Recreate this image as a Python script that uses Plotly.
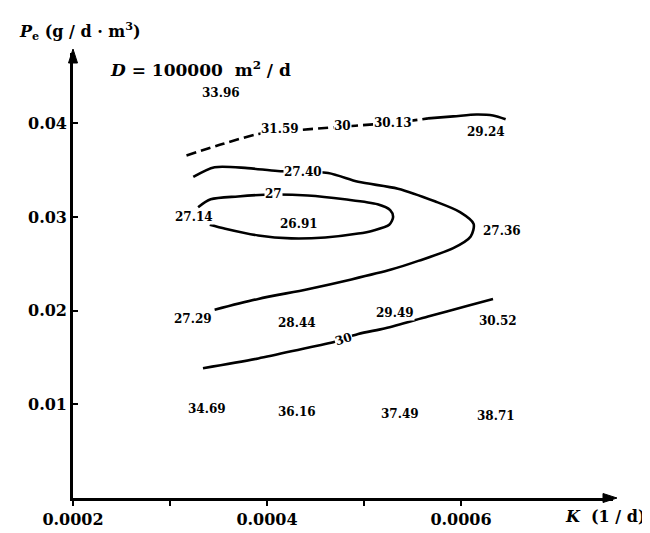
import plotly.graph_objects as go

# ---- grid values written on the chart (K, P where each value sits) ----
val_K = [0.000353, 0.000413, 0.000530, 0.000626,
         0.000325, 0.000433, 0.000642,
         0.000324, 0.000431, 0.000532, 0.000638,
         0.000338, 0.000431, 0.000537, 0.000636]
val_P = [0.0432, 0.0394, 0.0400, 0.0391,
         0.0300, 0.0293, 0.0285,
         0.0191, 0.0187, 0.0197, 0.0189,
         0.0095, 0.0092, 0.0090, 0.0087]
val_text = ["33.96", "31.59", "30.13", "29.24",
            "27.14", "26.91", "27.36",
            "27.29", "28.44", "29.49", "30.52",
            "34.69", "36.16", "37.49", "38.71"]

# ---- contour lines ----
top_dash_K = [0.000317, 0.000355, 0.000391, 0.000432, 0.000471, 0.000511, 0.000551, 0.000566]
top_dash_P = [0.03656, 0.03781, 0.03885, 0.03927, 0.03958, 0.03990, 0.04031, 0.04052]
top_solid_K = [0.000566, 0.000592, 0.000616, 0.000633, 0.000646]
top_solid_P = [0.04052, 0.04073, 0.04094, 0.04083, 0.04042]

c274_K = [0.000324, 0.000346, 0.000380, 0.000411, 0.000463, 0.000494, 0.000535,
          0.000573, 0.000599, 0.000613, 0.000610, 0.000592, 0.000556, 0.000528,
          0.000487, 0.000442, 0.000391, 0.000346]
c274_P = [0.03427, 0.03531, 0.03521, 0.03490, 0.03469, 0.03375, 0.03302,
          0.03167, 0.03052, 0.02927, 0.02792, 0.02667, 0.02531, 0.02438,
          0.02333, 0.02229, 0.02125, 0.02010]

c27_K = [0.000329, 0.000342, 0.000370, 0.000406, 0.000442, 0.000480, 0.000514,
         0.000527, 0.000530, 0.000526, 0.000509, 0.000494, 0.000460, 0.000425,
         0.000391, 0.000357, 0.000341]
c27_P = [0.03104, 0.03188, 0.03219, 0.03240, 0.03229, 0.03188, 0.03135,
         0.03073, 0.03000, 0.02917, 0.02854, 0.02823, 0.02781, 0.02771,
         0.02802, 0.02875, 0.02917]

c30_K = [0.000334, 0.000391, 0.000442, 0.000466, 0.000494, 0.000522, 0.000566, 0.000607, 0.000633]
c30_P = [0.01385, 0.01490, 0.01604, 0.01656, 0.01750, 0.01813, 0.01938, 0.02052, 0.02125]

# ---- contour level labels ----
lvl_K = [0.000437, 0.000407, 0.000478, 0.000479]
lvl_P = [0.0348, 0.0325, 0.0397, 0.0170]
lvl_text = ["27.40", "27", "30", "30"]
lvl_angle = [0, 0, 0, -18]

# ---- axes ----
x_tickvals = [0.0002, 0.0004, 0.0006]
x_ticktext = ["0.0002", "0.0004", "0.0006"]
x_minor_vals = [0.0003, 0.0005]
y_tickvals = [0.01, 0.02, 0.03, 0.04]
y_ticktext = ["0.01", "0.02", "0.03", "0.04"]

FONT = "DejaVu Serif"
LINE = dict(color="black", width=2.6, shape="spline", smoothing=0.8)

fig = go.Figure()
fig.add_trace(go.Scatter(x=top_dash_K, y=top_dash_P, mode="lines",
                         line=dict(LINE, dash="10px,5px"), hoverinfo="skip"))
for xs, ys in [(top_solid_K, top_solid_P), (c274_K, c274_P), (c27_K, c27_P), (c30_K, c30_P)]:
    fig.add_trace(go.Scatter(x=xs, y=ys, mode="lines", line=LINE, hoverinfo="skip"))

annotations = []
for k, p, t in zip(val_K, val_P, val_text):
    annotations.append(dict(x=k, y=p, xref="x", yref="y", text=t, showarrow=False,
                            bgcolor="white", borderpad=0,
                            font=dict(family=FONT, size=12, color="black", weight="bold")))
for k, p, t, a in zip(lvl_K, lvl_P, lvl_text, lvl_angle):
    annotations.append(dict(x=k, y=p, xref="x", yref="y", text=t, showarrow=False,
                            bgcolor="white", borderpad=0, textangle=a,
                            font=dict(family=FONT, size=12, color="black", weight="bold")))

annotations += [
    dict(x=0.065, y=0.963, xref="paper", yref="paper", xanchor="left", yanchor="middle",
         text="<i>D</i> = 100000  m<sup>2</sup> / d", showarrow=False,
         font=dict(family=FONT, size=17, color="black", weight="bold")),
    dict(x=1.065, y=-0.042, xref="paper", yref="paper", xanchor="right", yanchor="middle",
         text="<i>K</i>  (1 / d)", showarrow=False,
         font=dict(family=FONT, size=16, color="black", weight="bold")),
]

shapes = [
    dict(type="path", xref="paper", yref="paper", xsizemode="pixel", ysizemode="pixel",
         xanchor=1.0, yanchor=0.0, path="M 4,0 L -10,4.5 L -10,-4.5 Z",
         fillcolor="black", line=dict(color="black", width=1)),
    dict(type="path", xref="paper", yref="paper", xsizemode="pixel", ysizemode="pixel",
         xanchor=0.0, yanchor=1.0, path="M 0,4 L -4.5,-10 L 4.5,-10 Z",
         fillcolor="black", line=dict(color="black", width=1)),
]

fig.update_layout(
    width=650, height=533,
    margin=dict(l=65, r=45, t=45, b=32),
    paper_bgcolor="white", plot_bgcolor="white",
    showlegend=False,
    title=dict(text="<i>P</i><sub>e</sub> (g / d · m<sup>3</sup>)",
               x=12 / 650, xanchor="left", xref="container",
               y=1 - 23 / 533, yanchor="middle", yref="container",
               font=dict(family=FONT, size=16, color="black", weight="bold")),
    annotations=annotations,
    shapes=shapes,
    xaxis=dict(range=[0.0002, 0.0007567], showgrid=False, zeroline=False,
               showline=True, linecolor="black", linewidth=2.6,
               tickmode="array", tickvals=x_tickvals, ticktext=x_ticktext,
               ticks="outside", ticklen=5, tickwidth=2, tickcolor="black",
               minor=dict(tickmode="array", tickvals=x_minor_vals, ticks="outside",
                          ticklen=5, tickwidth=2, tickcolor="black", showgrid=False),
               tickfont=dict(family=FONT, size=16, color="black", weight="bold")),
    yaxis=dict(range=[0, 0.0475], showgrid=False, zeroline=False,
               showline=True, linecolor="black", linewidth=2.6,
               tickmode="array", tickvals=y_tickvals, ticktext=y_ticktext,
               ticks="inside", ticklen=5, tickwidth=2, tickcolor="black",
               tickfont=dict(family=FONT, size=16, color="black", weight="bold")),
)

fig.write_html("out.html")
